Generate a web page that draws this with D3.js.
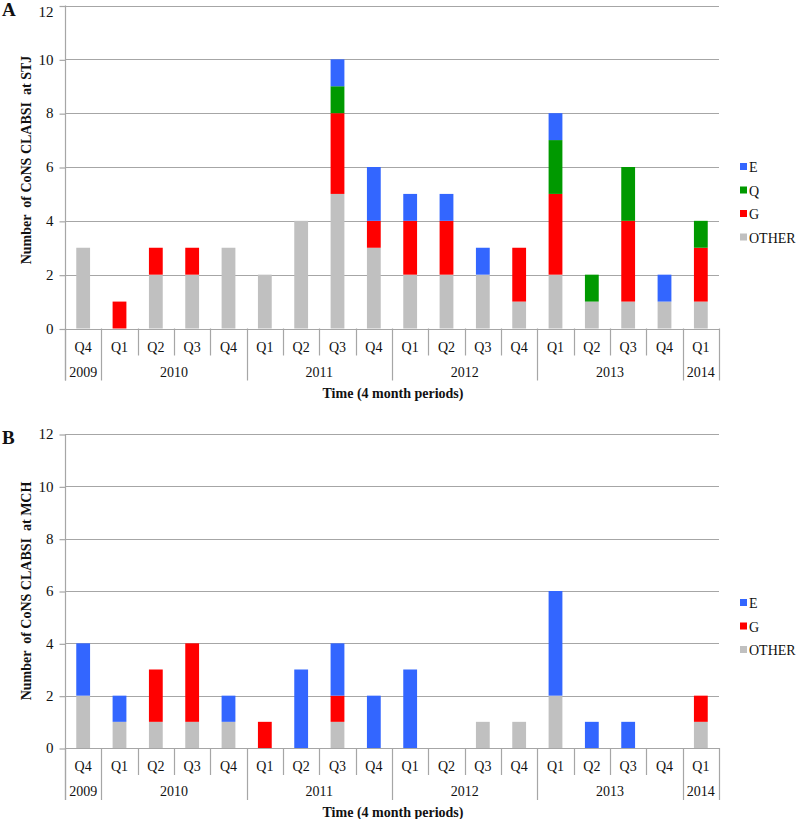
<!DOCTYPE html>
<html>
<head>
<meta charset="utf-8">
<script src="https://cdn.jsdelivr.net/npm/d3@7"></script>
<style>
  body { margin: 0; background: #fff; }
  svg text { font-family: "Liberation Serif", "DejaVu Serif", serif !important; }
</style>
</head>
<body>
<svg id="chart" width="800" height="819"></svg>
<script>
// ---- Data ----
const quarters = ["Q4","Q1","Q2","Q3","Q4","Q1","Q2","Q3","Q4","Q1","Q2","Q3","Q4","Q1","Q2","Q3","Q4","Q1"];
const years = [
  {label: "2009", start: 0, end: 1},
  {label: "2010", start: 1, end: 5},
  {label: "2011", start: 5, end: 9},
  {label: "2012", start: 9, end: 13},
  {label: "2013", start: 13, end: 17},
  {label: "2014", start: 17, end: 18}
];
const yTicks = [0, 2, 4, 6, 8, 10, 12];

// Panel A (STJ)
const stjOther = [3,0,2,2,3,2,4,5,3,2,2,2,1,2,1,1,1,1];
const stjG     = [0,1,1,1,0,0,0,3,1,2,2,0,2,3,0,3,0,2];
const stjQ     = [0,0,0,0,0,0,0,1,0,0,0,0,0,2,1,2,0,1];
const stjE     = [0,0,0,0,0,0,0,1,2,1,1,1,0,1,0,0,1,0];

// Panel B (MCH)
const mchOther = [2,1,1,1,1,0,0,1,0,0,0,1,1,2,0,0,0,1];
const mchG     = [0,0,2,3,0,1,0,1,0,0,0,0,0,0,0,0,0,1];
const mchE     = [2,1,0,0,1,0,3,2,2,3,0,0,0,4,1,1,0,0];

const colors = { E: "#3366FF", Q: "#009900", G: "#FF0000", OTHER: "#C0C0C0" };
const FONT = "Liberation Serif, DejaVu Serif, serif";

const svg = d3.select("#chart");

function drawPanel(cfg) {
  const g = svg.append("g").attr("font-family", FONT);
  const x = d3.scaleBand()
    .domain(d3.range(quarters.length))
    .range([cfg.left, cfg.right])
    .paddingInner(0.62)
    .paddingOuter(0.31);
  const step = x.step();
  const y = d3.scaleLinear().domain([0, 12]).range([cfg.bottom, cfg.top]);

  // gridlines
  g.append("g").selectAll("line").data(yTicks).join("line")
    .attr("x1", cfg.left).attr("x2", cfg.right)
    .attr("y1", d => Math.round(y(d)) + 0.5).attr("y2", d => Math.round(y(d)) + 0.5)
    .attr("stroke", "#a6a6a6").attr("stroke-width", 1.2);

  // y axis
  const ax = g.append("g")
    .attr("transform", `translate(${cfg.left + 0.5},0)`)
    .call(d3.axisLeft(y).tickValues(yTicks).tickSize(6).tickPadding(6));
  ax.attr("font-family", FONT);
  ax.select(".domain").remove();
  ax.selectAll(".tick line").attr("stroke", "#a6a6a6").attr("stroke-width", 1.2)
    .attr("transform", "translate(0,0.5)");
  ax.selectAll(".tick text").attr("font-size", 15).attr("fill", "#111")
    .attr("font-family", FONT)
    .attr("dy", d => (d === 12 && cfg.top < 10) ? "0.75em" : "0.32em");
  // left vertical line
  g.append("line")
    .attr("x1", cfg.left + 0.5).attr("x2", cfg.left + 0.5)
    .attr("y1", y(12)).attr("y2", cfg.bottom + 52)
    .attr("stroke", "#a6a6a6").attr("stroke-width", 1.2);

  // stacked bars
  const keys = cfg.series.map(s => s.key);
  const rows = quarters.map((q, i) => {
    const r = { i };
    cfg.series.forEach(s => r[s.key] = s.values[i]);
    return r;
  });
  const stack = d3.stack().keys(keys)(rows);
  g.append("g").selectAll("g").data(stack).join("g")
    .attr("fill", d => colors[d.key])
    .selectAll("rect").data(d => d).join("rect")
    .attr("x", d => x(d.data.i))
    .attr("width", x.bandwidth())
    .attr("y", d => y(d[1]))
    .attr("height", d => y(d[0]) - y(d[1]));

  // quarter separators
  const bounds = d3.range(quarters.length + 1);
  const yearBounds = new Set(years.flatMap(yr => [yr.start, yr.end]));
  g.append("g").selectAll("line").data(bounds).join("line")
    .attr("x1", i => Math.round(cfg.left + i * step) + 0.5)
    .attr("x2", i => Math.round(cfg.left + i * step) + 0.5)
    .attr("y1", cfg.bottom)
    .attr("y2", i => yearBounds.has(i) ? cfg.bottom + 52 : cfg.bottom + 27)
    .attr("stroke", "#a6a6a6").attr("stroke-width", 1.2);

  // quarter labels
  g.append("g").selectAll("text").data(quarters).join("text")
    .attr("x", (d, i) => x(i) + x.bandwidth() / 2)
    .attr("y", cfg.bottom + 23)
    .attr("text-anchor", "middle").attr("font-size", 14).attr("fill", "#111")
    .attr("font-family", FONT)
    .text(d => d);

  // year labels
  g.append("g").selectAll("text").data(years).join("text")
    .attr("x", d => cfg.left + (d.start + d.end) / 2 * step)
    .attr("y", cfg.bottom + 48)
    .attr("text-anchor", "middle").attr("font-size", 14).attr("fill", "#111")
    .attr("font-family", FONT)
    .text(d => d.label);

  // x title
  g.append("text")
    .attr("x", (cfg.left + cfg.right) / 2 + 1)
    .attr("y", cfg.bottom + 69)
    .attr("text-anchor", "middle").attr("font-size", 14).attr("font-weight", "bold")
    .attr("fill", "#111").attr("font-family", FONT)
    .text("Time (4 month periods)");

  // y title
  g.append("text")
    .attr("transform", `translate(${cfg.left - 34},${cfg.yTitleCenter}) rotate(-90)`)
    .attr("text-anchor", "middle").attr("font-size", 14).attr("font-weight", "bold")
    .attr("fill", "#111").attr("xml:space", "preserve").attr("font-family", FONT)
    .text(cfg.yTitle);

  // panel letter
  g.append("text")
    .attr("x", 2).attr("y", cfg.top + 10)
    .attr("font-size", 19).attr("font-weight", "bold").attr("fill", "#111")
    .attr("font-family", FONT)
    .text(cfg.letter);

  // legend (top item = last stacked)
  const legendItems = keys.slice().reverse();
  const lg = g.append("g").selectAll("g").data(legendItems).join("g")
    .attr("transform", (d, i) => `translate(740,${cfg.legendTop + i * 23.5})`);
  lg.append("rect").attr("x", 0).attr("y", -4).attr("width", 7).attr("height", 7)
    .attr("fill", d => colors[d]);
  lg.append("text").attr("x", 9).attr("y", 5).attr("font-size", 14).attr("fill", "#111")
    .attr("font-family", FONT)
    .text(d => d);
}

drawPanel({
  letter: "A", left: 65, right: 719, top: 5.5, bottom: 328.5,
  yTitle: "Number  of CoNS CLABSI  at STJ", yTitleCenter: 160, legendTop: 167,
  series: [
    { key: "OTHER", values: stjOther },
    { key: "G", values: stjG },
    { key: "Q", values: stjQ },
    { key: "E", values: stjE }
  ]
});

drawPanel({
  letter: "B", left: 65, right: 719, top: 434, bottom: 748,
  yTitle: "Number  of CoNS CLABSI  at MCH", yTitleCenter: 591, legendTop: 603,
  series: [
    { key: "OTHER", values: mchOther },
    { key: "G", values: mchG },
    { key: "E", values: mchE }
  ]
});
</script>
</body>
</html>
